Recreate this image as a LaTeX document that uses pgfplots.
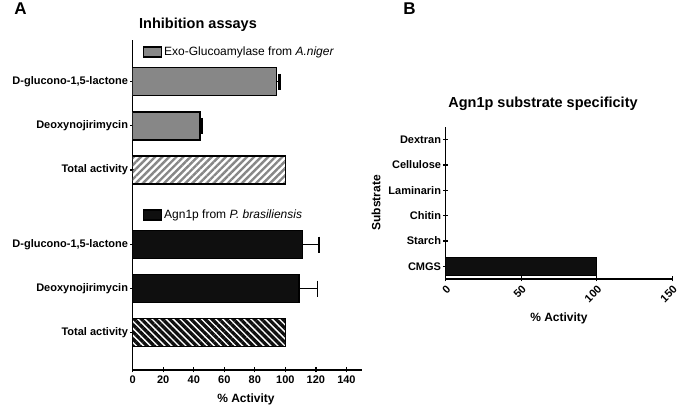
\documentclass[border=0pt]{standalone}
\usepackage{fontspec}
\setmainfont{Liberation Sans}
\usepackage{pgfplots}
\pgfplotsset{compat=1.18}
\usetikzlibrary{patterns.meta}
\definecolor{exogray}{RGB}{135,135,135}
\definecolor{agnblack}{RGB}{15,15,15}
\pgfplotsset{
  base/.style={
    scale only axis,
    tick style={line width=1.2pt, black},
    major tick length=5pt,
    tick align=outside,
    yticklabel style={font=\fontsize{11}{12}\selectfont\bfseries, inner sep=2pt},
    xticklabel style={font=\fontsize{11}{12}\selectfont\bfseries},
    /pgf/number format/assume math mode=true,
    legend image code/.code={\draw[#1, line width=1.3pt] (0pt,-5pt) rectangle (18pt,5pt);},
    legend style={draw=none, fill=none, inner sep=0pt, font=\fontsize{12}{13}\selectfont, legend cell align=left},
  },
  noarrow/.style={axis line style={-, line width=1.3pt, black}},
}
\begin{document}
\begin{tikzpicture}[x=1pt,y=1pt]
\useasboundingbox (0,0) rectangle (680,411);

% ---------- Panel A, upper part ----------
\begin{axis}[base,
  at={(132.7pt,208pt)}, anchor=south west,
  width=229pt, height=163pt,
  xmin=0, xmax=150, ymin=0, ymax=3.7,
  axis y line=left, axis x line=none, noarrow,
  ytick={0.75,1.75,2.75},
  yticklabels={{Total activity\ },{Deoxynojirimycin},{D-glucono-1,5-lactone}},
  legend style={at={(axis description cs:0,1)}, anchor=west, xshift=10pt, yshift=-12pt},
]
\addplot[xbar, bar width=28pt, fill=exogray, draw=black, line width=1.3pt,
  error bars/.cd, x dir=plus, x explicit, error mark=|,
  error bar style={line width=1.3pt, black},
  error mark options={line width=2.5pt, mark size=8pt, black}]
  table[x=v, y=p, x error=e] {
p v e
1.75 44 1.5
2.75 94 2
};
\addlegendentry{Exo-Glucoamylase from \textit{A.niger}}
\addplot[xbar, bar width=28pt, draw=black, line width=1.3pt, forget plot,
  pattern={Lines[angle=45, distance=5pt, line width=2.4pt]}, pattern color=exogray]
  table[x=v, y=p] {
p v
0.75 100
};
\end{axis}

% ---------- Panel A, lower part ----------
\begin{axis}[base,
  at={(132.7pt,41pt)}, anchor=south west,
  width=229pt, height=167pt,
  xmin=0, xmax=150, ymin=0, ymax=3.8,
  axis lines=left, noarrow,
  xtick={0,20,...,140},
  ytick={0.85,1.85,2.85},
  yticklabels={{Total activity\ },{Deoxynojirimycin},{D-glucono-1,5-lactone}},
  legend style={at={(axis description cs:0,1)}, anchor=west, xshift=10pt, yshift=-12pt},
]
\addplot[xbar, bar width=28pt, fill=agnblack, draw=black, line width=1.3pt,
  error bars/.cd, x dir=plus, x explicit, error mark=|,
  error bar style={line width=1.3pt, black},
  error mark options={line width=1.3pt, mark size=8pt, black}]
  table[x=v, y=p, x error=e] {
p v e
1.85 109 12
2.85 111 11
};
\addlegendentry{Agn1p from \textit{P. brasiliensis}}
\addplot[xbar, bar width=28pt, draw=black, line width=1.3pt, forget plot,
  pattern={Lines[angle=-45, distance=5pt, line width=3.3pt]}, pattern color=agnblack]
  table[x=v, y=p] {
p v
0.85 100
};
\end{axis}

% ---------- Panel B ----------
\begin{axis}[base,
  at={(445.7pt,132pt)}, anchor=south west,
  width=226.6pt, height=152pt,
  xmin=0, xmax=150, ymin=-0.5, ymax=5.5,
  axis lines=left, noarrow,
  xtick={0,50,100,150},
  xticklabel style={rotate=45, anchor=north east, inner sep=2pt},
  ytick={0,1,2,3,4,5},
  yticklabels={CMGS,Starch,Chitin,Laminarin,Cellulose,Dextran},
]
\addplot[xbar, bar width=18pt, fill=agnblack, draw=black, line width=1pt]
  table[x=v, y=p] {
p v
0 100
1 0
2 0
3 0
4 0
5 0
};
\end{axis}

% ---------- Texts ----------
\node[font=\fontsize{17}{17}\selectfont\bfseries] at (20.5,402) {A};
\node[font=\fontsize{17}{17}\selectfont\bfseries] at (409.5,402) {B};
\node[font=\fontsize{14.5}{15}\selectfont\bfseries] at (198,386) {Inhibition assays};
\node[font=\fontsize{14.5}{15}\selectfont\bfseries] at (543,307) {Agn1p substrate specificity};
\node[font=\fontsize{12}{13}\selectfont\bfseries] at (246,12) {\% Activity};
\node[font=\fontsize{12}{13}\selectfont\bfseries] at (559,93) {\% Activity};
\node[font=\fontsize{12}{13}\selectfont\bfseries, rotate=90] at (376,208) {Substrate};
\end{tikzpicture}
\end{document}
